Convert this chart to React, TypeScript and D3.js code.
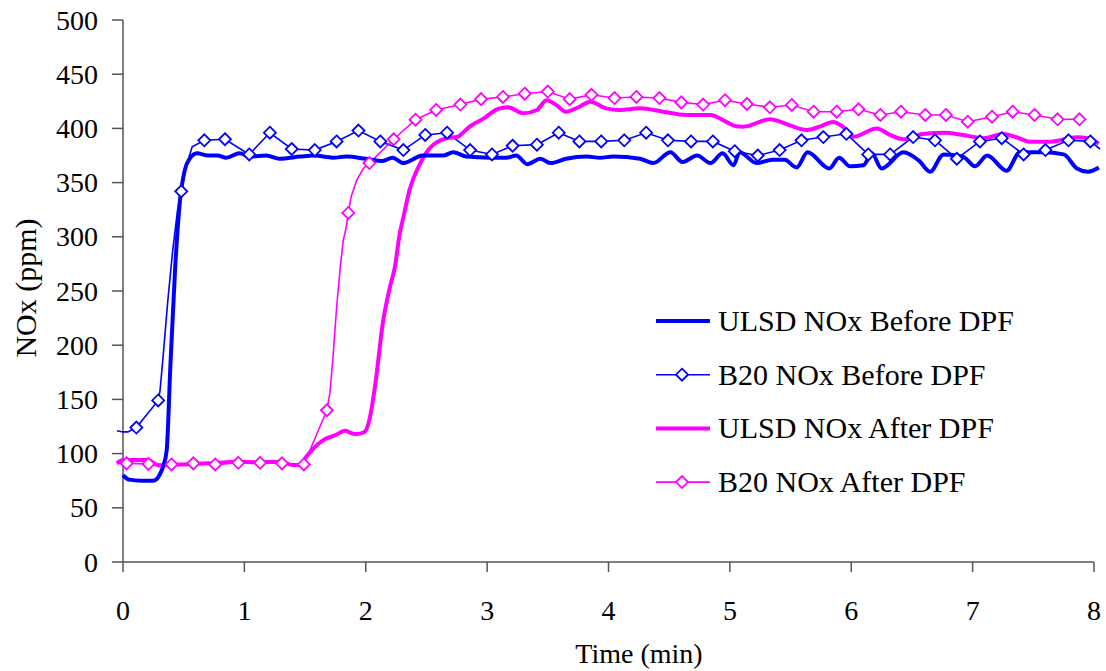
import React from "react";
import * as d3 from "d3";

// ---- data (time in min, NOx in ppm) ----
const xTicks = [0, 1, 2, 3, 4, 5, 6, 7, 8];
const yTicks = [0, 50, 100, 150, 200, 250, 300, 350, 400, 450, 500];

const seriesNames = [
  "ULSD NOx Before DPF",
  "B20 NOx Before DPF",
  "ULSD NOx After DPF",
  "B20 NOx After DPF",
];

const ulsdBefore: [number, number][] = [
  [0, 80], [0.05, 76], [0.15, 75], [0.25, 75], [0.3, 80], [0.33, 88], [0.36, 103],
  [0.39, 180], [0.43, 272], [0.47, 334], [0.51, 362], [0.55, 372], [0.61, 377],
  [0.7, 375], [0.78, 375], [0.85, 373], [0.96, 377], [1.05, 374], [1.18, 375],
  [1.29, 372], [1.46, 374], [1.57, 375], [1.73, 373], [1.84, 374], [2.0, 372],
  [2.14, 370], [2.22, 373], [2.31, 368], [2.47, 375], [2.64, 375], [2.72, 378],
  [2.83, 374], [3.02, 373], [3.16, 373], [3.24, 375], [3.33, 367], [3.44, 372],
  [3.52, 368], [3.65, 372], [3.82, 374], [3.93, 373], [4.04, 374], [4.26, 372],
  [4.37, 368], [4.51, 378], [4.61, 369], [4.73, 375], [4.84, 368], [4.94, 377],
  [5.03, 366], [5.08, 378], [5.22, 368], [5.35, 371], [5.45, 371], [5.55, 364],
  [5.64, 378], [5.82, 363], [5.9, 373], [5.99, 365], [6.1, 366], [6.17, 377],
  [6.25, 363], [6.43, 378], [6.56, 370], [6.65, 360], [6.76, 376], [6.92, 374],
  [7.02, 365], [7.12, 375], [7.28, 361], [7.39, 378], [7.58, 378], [7.75, 376],
  [7.86, 363], [7.95, 360], [8.04, 364],
];

// [time, NOx, marker(1 = diamond drawn)]
const b20Before: [number, number, number][] = [
  [-0.05, 121, 0], [0.0, 120, 0], [0.04, 120, 0], [0.11, 124, 1], [0.29, 149, 1],
  [0.305, 158, 0], [0.33, 189, 0], [0.37, 242, 0], [0.41, 288, 0], [0.45, 325, 0],
  [0.48, 342, 1], [0.52, 365, 0], [0.57, 383, 0], [0.67, 389, 1], [0.84, 390, 1],
  [1.04, 376, 1], [1.21, 396, 1], [1.39, 381, 1], [1.58, 380, 1], [1.76, 388, 1],
  [1.94, 398, 1], [2.12, 388, 1], [2.31, 380, 1], [2.49, 394, 1], [2.67, 396, 1],
  [2.86, 380, 1], [3.04, 376, 1], [3.21, 384, 1], [3.41, 385, 1], [3.59, 396, 1],
  [3.76, 388, 1], [3.94, 388, 1], [4.13, 389, 1], [4.31, 396, 1], [4.49, 389, 1],
  [4.68, 388, 1], [4.86, 388, 1], [5.04, 379, 1], [5.23, 375, 1], [5.41, 380, 1],
  [5.59, 389, 1], [5.77, 392, 1], [5.96, 395, 1], [6.14, 376, 1], [6.32, 376, 1],
  [6.51, 392, 1], [6.69, 389, 1], [6.87, 372, 1], [7.06, 388, 1], [7.24, 391, 1],
  [7.42, 376, 1], [7.6, 380, 1], [7.79, 389, 1], [7.97, 388, 1], [8.05, 381, 0],
];

const ulsdAfter: [number, number][] = [
  [-0.05, 91], [0.0, 94], [0.1, 94], [0.2, 94], [0.3, 89], [0.36, 89.5], [0.5, 90],
  [0.7, 91], [0.96, 92.5], [1.1, 92], [1.29, 92.5], [1.4, 89.5], [1.46, 89.5],
  [1.51, 97], [1.58, 106], [1.65, 112.5], [1.75, 117], [1.83, 121], [1.88, 119],
  [1.92, 118], [1.99, 120], [2.03, 131], [2.08, 165], [2.14, 220], [2.2, 254],
  [2.24, 272], [2.28, 303], [2.31, 318], [2.36, 343], [2.45, 368], [2.53, 382],
  [2.67, 391], [2.75, 392], [2.86, 402], [2.97, 409], [3.09, 418], [3.17, 419.5],
  [3.3, 414], [3.41, 417], [3.49, 426], [3.57, 421.6], [3.65, 415.4], [3.76, 420],
  [3.85, 424.6], [3.98, 418.5], [4.09, 417], [4.26, 418.5], [4.45, 415.4],
  [4.64, 412.4], [4.84, 412.4], [4.97, 406], [5.05, 402], [5.11, 401.6],
  [5.33, 408.4], [5.49, 403], [5.63, 398.5], [5.74, 401.6], [5.85, 406],
  [5.93, 401.6], [6.02, 392.4], [6.21, 400], [6.32, 394], [6.43, 390],
  [6.59, 394.8], [6.76, 396], [6.92, 394], [7.09, 391], [7.25, 394.8],
  [7.36, 391.8], [7.47, 387.8], [7.64, 387.8], [7.86, 391.8], [7.95, 391], [8.04, 386],
];

const b20After: [number, number, number][] = [
  [-0.05, 91, 0], [0.03, 91, 1], [0.21, 90.5, 1], [0.4, 90, 1], [0.58, 91, 1],
  [0.76, 90, 1], [0.95, 91.5, 1], [1.13, 91.5, 1], [1.31, 91, 1], [1.49, 90, 1],
  [1.68, 140, 1], [1.705, 156, 0], [1.73, 189, 0], [1.76, 235, 0], [1.79, 272, 0],
  [1.815, 297, 0], [1.84, 309, 0], [1.856, 322, 1], [1.88, 337, 0], [1.925, 352, 0],
  [1.98, 363, 0], [2.03, 368, 1], [2.23, 390, 1], [2.41, 408, 1], [2.58, 417, 1],
  [2.78, 422, 1], [2.95, 427, 1], [3.13, 429, 1], [3.31, 432, 1], [3.5, 434, 1],
  [3.68, 427, 1], [3.86, 431, 1], [4.05, 428, 1], [4.23, 429, 1], [4.42, 428, 1],
  [4.6, 424, 1], [4.78, 422, 1], [4.96, 426, 1], [5.14, 422.5, 1], [5.33, 419.5, 1],
  [5.51, 421.6, 1], [5.69, 415.4, 1], [5.88, 415.4, 1], [6.06, 417.6, 1],
  [6.24, 412.4, 1], [6.41, 415.4, 1], [6.61, 412.4, 1], [6.78, 412.4, 1],
  [6.96, 406.2, 1], [7.16, 410.8, 1], [7.33, 415.4, 1], [7.51, 412.4, 1],
  [7.7, 408.4, 1], [7.88, 408.4, 1],
];

// ---- layout ----
const W = 1106;
const H = 671;
const BLUE = "#0000FF";
const MAGENTA = "#FF00FF";
const FONT = "'Liberation Serif', 'Times New Roman', serif";
const AXIS = "#555";

const x = d3.scaleLinear().domain([0, 8]).range([123, 1094]);
const y = d3.scaleLinear().domain([0, 500]).range([562, 20]);

const smooth = d3
  .line<[number, number]>()
  .x((d) => x(d[0]))
  .y((d) => y(d[1]))
  .curve(d3.curveMonotoneX);

const straight = d3
  .line<[number, number, number]>()
  .x((d) => x(d[0]))
  .y((d) => y(d[1]));

const diamond = (cx: number, cy: number, r = 6) =>
  `M${cx},${cy - r}L${cx + r},${cy}L${cx},${cy + r}L${cx - r},${cy}Z`;

function Markers({ data, color }: { data: [number, number, number][]; color: string }) {
  return (
    <g>
      {data
        .filter((d) => d[2] === 1)
        .map((d, i) => (
          <path
            key={i}
            d={diamond(x(d[0]), y(d[1]))}
            fill="#fff"
            stroke={color}
            strokeWidth={1.8}
          />
        ))}
    </g>
  );
}

export default function App() {
  const legendColors = [BLUE, BLUE, MAGENTA, MAGENTA];
  const legendThick = [true, false, true, false];
  const legendY0 = 321;
  const legendStep = 53.7;
  return (
    <svg
      width={W}
      height={H}
      style={{ position: "absolute", left: 0, top: 0, background: "#fff" }}
      fontFamily={FONT}
    >
      {/* axes */}
      <line x1={x(0)} x2={x(0)} y1={y(500)} y2={y(0)} stroke={AXIS} strokeWidth={1.5} />
      <line x1={x(0)} x2={x(8)} y1={y(0)} y2={y(0)} stroke={AXIS} strokeWidth={1.5} />
      {yTicks.map((t) => (
        <g key={"y" + t}>
          <line x1={x(0) - 11} x2={x(0)} y1={y(t)} y2={y(t)} stroke={AXIS} strokeWidth={1.5} />
          <text x={98} y={y(t) + 9.5} textAnchor="end" fontSize={28} fill="#000">
            {t}
          </text>
        </g>
      ))}
      {xTicks.map((t) => (
        <g key={"x" + t}>
          <line x1={x(t)} x2={x(t)} y1={y(0)} y2={y(0) + 10} stroke={AXIS} strokeWidth={1.5} />
          <text x={x(t)} y={620} textAnchor="middle" fontSize={28} fill="#000">
            {t}
          </text>
        </g>
      ))}
      <text x={639} y={663} textAnchor="middle" fontSize={28} fill="#000">
        Time (min)
      </text>
      <text
        transform={`translate(36, 288) rotate(-90)`}
        textAnchor="middle"
        fontSize={30}
        fill="#000"
      >
        NOx (ppm)
      </text>

      {/* series */}
      <path d={straight(b20Before) || ""} fill="none" stroke={BLUE} strokeWidth={1.6} />
      <path d={straight(b20After) || ""} fill="none" stroke={MAGENTA} strokeWidth={1.6} />
      <path
        d={smooth(ulsdAfter) || ""}
        fill="none"
        stroke={MAGENTA}
        strokeWidth={4}
        strokeLinejoin="round"
      />
      <path
        d={smooth(ulsdBefore) || ""}
        fill="none"
        stroke={BLUE}
        strokeWidth={4}
        strokeLinejoin="round"
      />
      <Markers data={b20Before} color={BLUE} />
      <Markers data={b20After} color={MAGENTA} />

      {/* legend */}
      {seriesNames.map((name, i) => {
        const ly = legendY0 + i * legendStep;
        return (
          <g key={name}>
            <line
              x1={656}
              x2={710}
              y1={ly}
              y2={ly}
              stroke={legendColors[i]}
              strokeWidth={legendThick[i] ? 4 : 1.6}
            />
            {!legendThick[i] && (
              <path d={diamond(682, ly)} fill="#fff" stroke={legendColors[i]} strokeWidth={1.8} />
            )}
            <text x={718} y={ly + 10} fontSize={30} fill="#000">
              {name}
            </text>
          </g>
        );
      })}
    </svg>
  );
}
